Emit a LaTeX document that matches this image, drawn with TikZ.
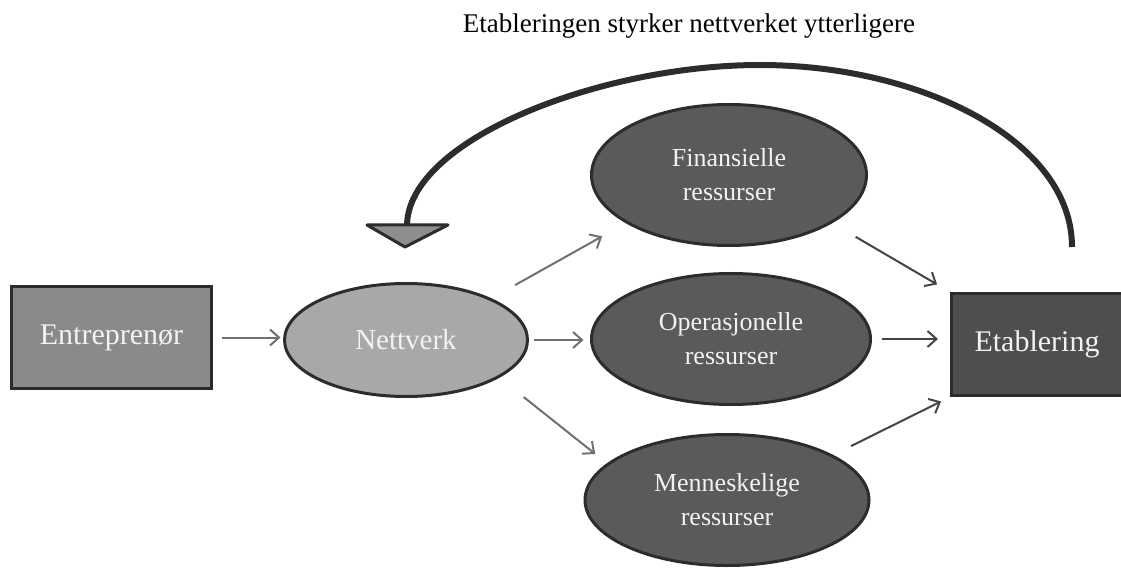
\documentclass[tikz,border=0pt]{standalone}
\usepackage{fontspec}
\setmainfont{Liberation Serif}
\usetikzlibrary{shapes.geometric,arrows.meta,calc}
\definecolor{entfill}{HTML}{8A8A8A}
\definecolor{netfill}{HTML}{A8A8A8}
\definecolor{resfill}{HTML}{5A5A5A}
\definecolor{etafill}{HTML}{4E4E4E}
\definecolor{edge}{HTML}{2C2C2C}
\definecolor{txt}{HTML}{F2F2F2}
\definecolor{lightarr}{HTML}{707070}
\definecolor{darkarr}{HTML}{444444}
\definecolor{headfill}{HTML}{8E8E8E}
\tikzset{
  boxnode/.style={rectangle, draw=edge, line width=3pt, inner sep=0pt, text=txt,
    font=\fontsize{30}{36}\selectfont},
  ovalnode/.style={ellipse, draw=edge, line width=3pt, inner sep=0pt, text=txt,
    align=center},
  resnode/.style={ovalnode, fill=resfill, font=\fontsize{26}{34}\selectfont},
  flow/.style={line width=2pt, -{Straight Barb[length=9pt,width=16pt,line width=2pt]}},
  loopline/.style={draw=edge, line width=6pt},
  loophead/.style={draw=edge, fill=headfill, line width=3pt, line join=round},
}
\begin{document}
\begin{tikzpicture}[x=1pt,y=-1pt]
\useasboundingbox (0,0) rectangle (1121,577);
\node[anchor=base, font=\fontsize{27}{32}\selectfont] (title) at (689,33) {Etableringen styrker nettverket ytterligere};

\node[boxnode, fill=entfill, minimum width=200pt, minimum height=102pt] (ent) at (111.5,337.5) {Entreprenør};
\node[ovalnode, fill=netfill, minimum width=243pt, minimum height=113pt, font=\fontsize{29}{34}\selectfont] (net) at (406,340) {Nettverk};
\node[resnode, minimum width=275pt, minimum height=141pt] (fin) at (729,175) {Finansielle\\ressurser};
\node[resnode, minimum width=279pt, minimum height=131pt] (op) at (731,339) {Operasjonelle\\ressurser};
\node[resnode, minimum width=284pt, minimum height=131pt] (men) at (727,500) {Menneskelige\\ressurser};
\node[boxnode, fill=etafill, minimum width=171pt, minimum height=102pt] (eta) at (1037,344.5) {Etablering};

\draw[flow, lightarr, shorten <=8.5pt, shorten >=2.5pt] (ent.east) -- (ent.east -| net.west);
\draw[flow, lightarr, shorten <=27pt, shorten >=27pt] (net.26.3) -- (fin.205.7);
\draw[flow, lightarr, shorten <=5pt, shorten >=6.5pt] (net.east) -- (net.east -| op.west);
\draw[flow, lightarr, shorten <=31pt, shorten >=15pt] (net.-22.7) -- (men.163);
\draw[flow, darkarr, shorten <=27pt, shorten >=15pt] (fin.-25.2) -- (eta.north west);
\draw[flow, darkarr, shorten <=10pt, shorten >=12pt] (op.east) -- (op.east -| eta.west);
\draw[flow, darkarr, shorten <=20pt, shorten >=10pt] (men.23) -- (eta.south west);

\coordinate (loopstart) at (1072,247);
\coordinate (loopend) at (407,226);
\draw[loopline] (loopstart) .. controls (1072,140) and (920,65) .. (760,65) .. controls (600,65) and (407,140) .. (loopend);
\draw[loophead] (367,225) -- (448,225) -- (405,247) -- cycle;
\end{tikzpicture}
\end{document}
